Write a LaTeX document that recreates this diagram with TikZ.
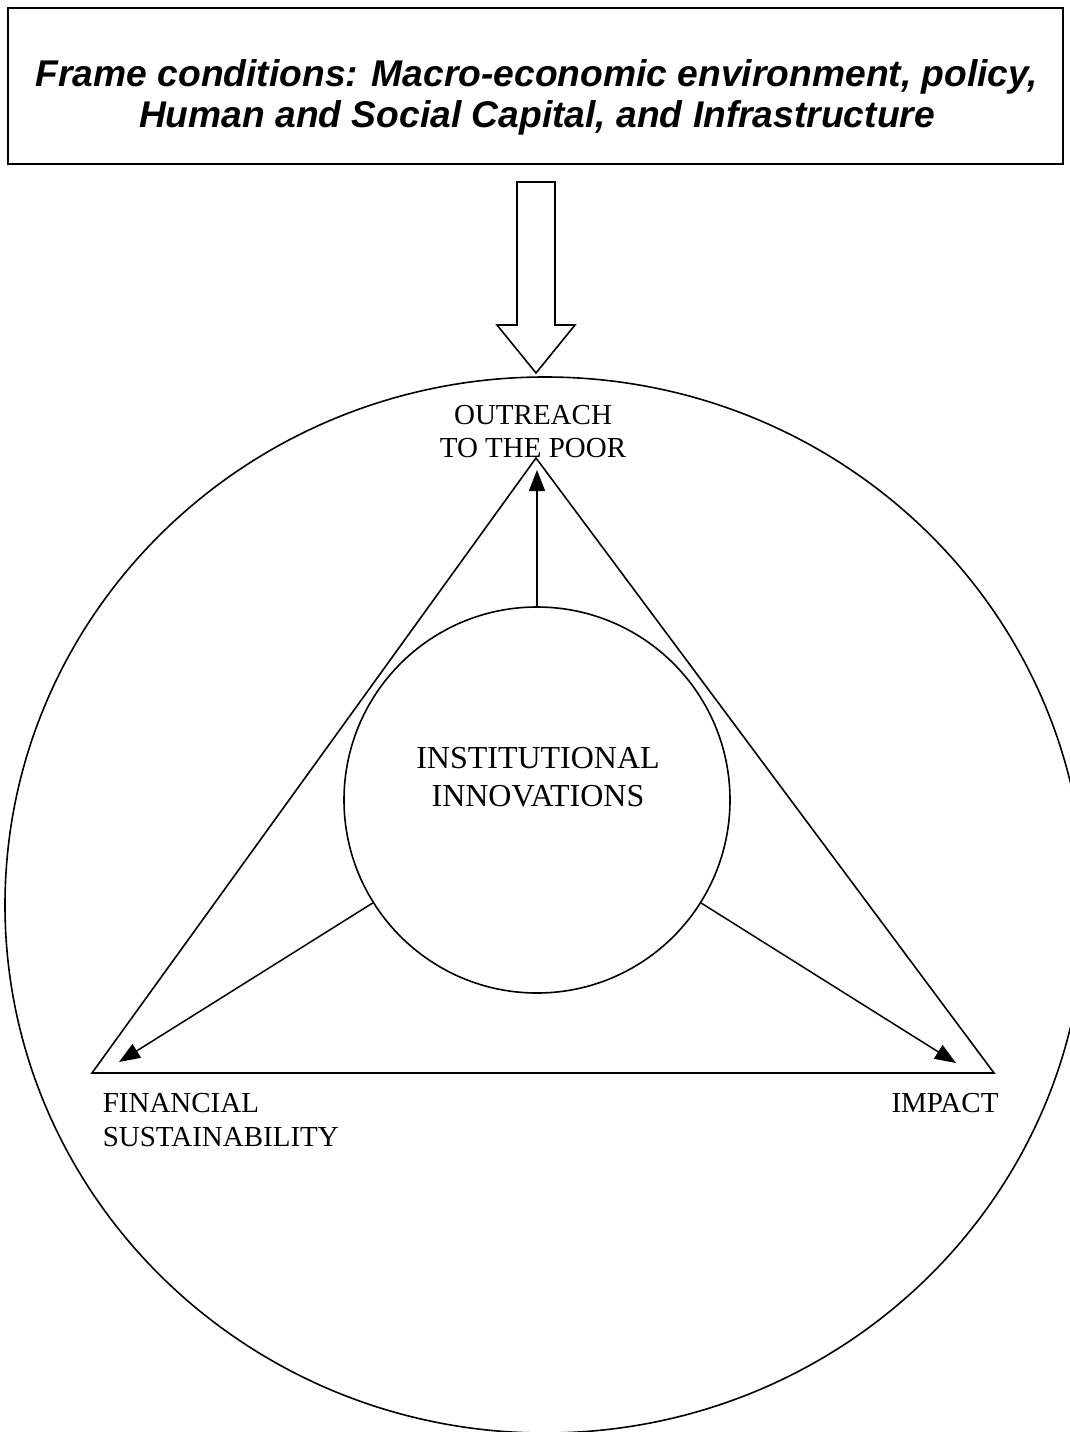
\documentclass[tikz,border=0pt]{standalone}
\usepackage{fontspec}
\setmainfont{Liberation Serif}
\newfontfamily\framefont{Liberation Sans}
\usetikzlibrary{arrows.meta}
\tikzset{
  lbl/.style={align=center, inner sep=0pt, font=\fontsize{29}{33.5}\selectfont},
  pil/.style={-{Triangle[length=21pt,width=16pt]}, line width=1.5pt},
}
\begin{document}
\begin{tikzpicture}[x=1pt,y=-1pt,line width=1.6pt]
	\useasboundingbox (0,0) rectangle (1070,1432);
	\clip (0,0) rectangle (1070,1432);
	\node[draw, minimum width=1055pt, minimum height=156pt, inner sep=0pt] (frame) at (535.5,86) {};
	\node[align=center, inner sep=0pt, font=\framefont\bfseries\itshape\fontsize{37.2}{41}\selectfont] (frametxt) at (537,97.5) {Frame conditions: Macro-economic environment, policy,\\Human and Social Capital, and Infrastructure};
	\draw (517,182) -- (555,182) -- (555,325) -- (575,325) -- (536,373) -- (497,325) -- (517,325) -- cycle;
	\draw (545,905) ellipse [x radius=540, y radius=528];
	\coordinate (apex) at (536,458);
	\coordinate (fincorner) at (92,1073);
	\coordinate (impcorner) at (994,1073);
	\draw (apex) -- (fincorner) -- (impcorner) -- cycle;
	\node[circle, draw, minimum size=386pt, inner sep=0pt] (innov) at (537,800) {};
	\node[lbl, font=\fontsize{32}{38}\selectfont] (innovtxt) at (538,777) {INSTITUTIONAL\\INNOVATIONS};
	\coordinate (outtip) at (537,470);
	\coordinate (fintip) at (119,1062);
	\coordinate (imptip) at (956,1063);
	\draw[pil] (innov) -- (outtip);
	\draw[pil] (innov) -- (fintip);
	\draw[pil] (innov) -- (imptip);
	\node[lbl] (outreach) at (533,431.5) {OUTREACH\\TO THE POOR};
	\node[lbl, align=left, anchor=west] (finsust) at (102,1120) {FINANCIAL\\SUSTAINABILITY};
	\node[lbl] (impact) at (945,1103.5) {IMPACT};
\end{tikzpicture}
\end{document}
